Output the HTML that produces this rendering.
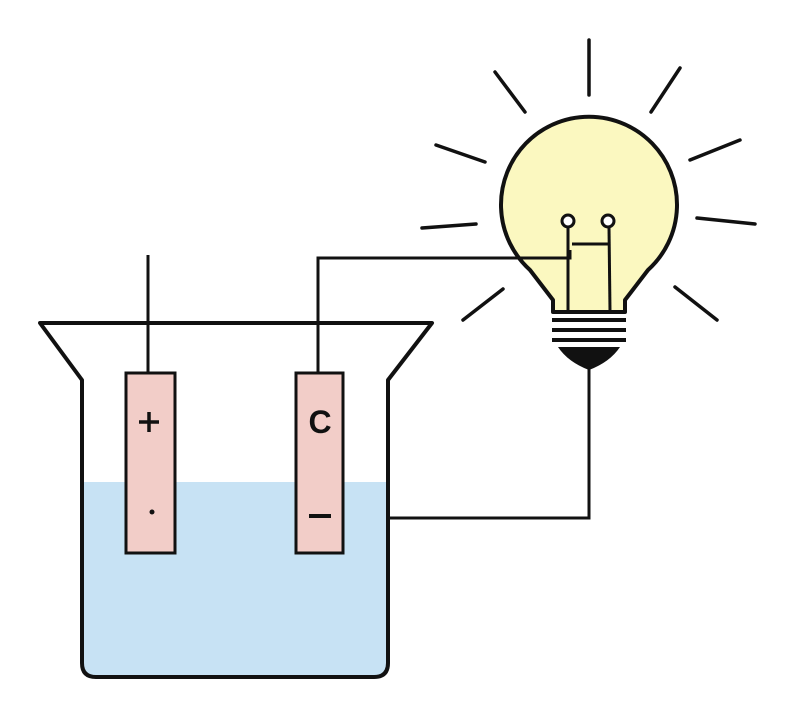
<!DOCTYPE html>
<html><head><meta charset="utf-8"><style>html,body{margin:0;padding:0;background:#fff}</style></head>
<body>
<svg width="800" height="720" viewBox="0 0 800 720" xmlns="http://www.w3.org/2000/svg" font-family="Liberation Sans, sans-serif">
<rect width="800" height="720" fill="#fff"/>
<path d="M82 482 H388 V663 Q388 677 374 677 H96 Q82 677 82 663 Z" fill="#c7e2f4"/>
<path d="M148 323 H40 L82 380 V663 Q82 677 96 677 H374 Q388 677 388 663 V380 L432 323 H318" fill="none" stroke="#111" stroke-width="4" stroke-linejoin="round"/>
<line x1="148" y1="323" x2="318" y2="323" stroke="#111" stroke-width="4"/>
<line x1="148" y1="255" x2="148" y2="373" stroke="#111" stroke-width="3"/>
<polyline points="589,365 589,518 388,518" fill="none" stroke="#111" stroke-width="3"/>
<rect x="126" y="373" width="49" height="180" fill="#f2cdc8" stroke="#111" stroke-width="3"/>
<rect x="296" y="373" width="47" height="180" fill="#f2cdc8" stroke="#111" stroke-width="3"/>
<line x1="139" y1="422" x2="159" y2="422" stroke="#111" stroke-width="3.5"/>
<line x1="149" y1="412" x2="149" y2="432" stroke="#111" stroke-width="3.5"/>
<circle cx="152" cy="512" r="2.5" fill="#111"/>
<text x="320" y="433" font-size="32" font-weight="bold" text-anchor="middle" fill="#111">C</text>
<line x1="309" y1="516" x2="331" y2="516" stroke="#111" stroke-width="4"/>
<g stroke="#111" stroke-width="3.5" stroke-linecap="round">
<line x1="589" y1="40" x2="589" y2="95"/>
<line x1="495" y1="72" x2="525" y2="112"/>
<line x1="680" y1="68" x2="651" y2="112"/>
<line x1="436" y1="145" x2="485" y2="162"/>
<line x1="740" y1="140" x2="690" y2="160"/>
<line x1="422" y1="228" x2="476" y2="224"/>
<line x1="697" y1="218" x2="755" y2="224"/>
<line x1="463" y1="320" x2="503" y2="289"/>
<line x1="675" y1="287" x2="717" y2="320"/>
</g>
<path d="M553 312 V300 L530 270 A88 88 0 1 1 648 270 L625 300 V312 Z" fill="#fbf8c0" stroke="#111" stroke-width="4" stroke-linejoin="round"/>
<polyline points="318,373 318,258 570,258 570,250" fill="none" stroke="#111" stroke-width="3"/>
<g stroke="#111" stroke-width="3">
<line x1="568" y1="227" x2="568" y2="311"/>
<line x1="609" y1="227" x2="610" y2="311"/>
<line x1="572" y1="244" x2="608" y2="244"/>
</g>
<circle cx="568" cy="221" r="6" fill="#fff" stroke="#111" stroke-width="3"/>
<circle cx="608" cy="221" r="6" fill="#fff" stroke="#111" stroke-width="3"/>
<g stroke="#111" stroke-width="4">
<line x1="552" y1="320" x2="626" y2="320"/>
<line x1="552" y1="330" x2="626" y2="330"/>
<line x1="552" y1="340" x2="626" y2="340"/>
</g>
<path d="M558 347 H620 Q610 362 589 370 Q568 362 558 347 Z" fill="#111"/>
</svg>
</body></html>
